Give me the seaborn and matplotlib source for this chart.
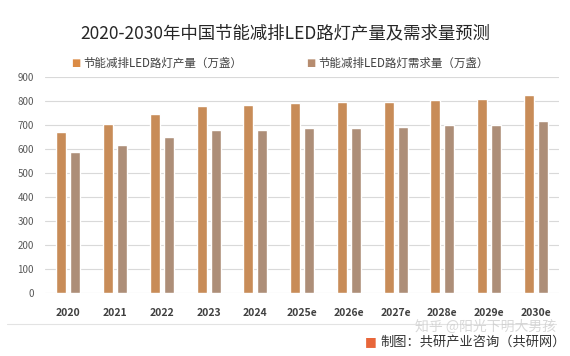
import pandas as pd
import matplotlib.pyplot as plt
import seaborn as sns

# data
years = ['2020', '2021', '2022', '2023', '2024', '2025e', '2026e',
         '2027e', '2028e', '2029e', '2030e']
production = [669, 704, 747, 778, 783, 792, 794, 795, 803, 808, 824]
demand = [586, 618, 650, 677, 680, 689, 689, 692, 698, 700, 717]
series_names = ['节能减排LED路灯产量（万盏）', '节能减排LED路灯需求量（万盏）']
colors = ['#DB8B45', '#B68C6F']

df = pd.DataFrame({'year': years * 2,
                   'value': production + demand,
                   'series': [series_names[0]] * len(years) + [series_names[1]] * len(years)})

sns.set_style('white')
plt.rcParams['font.family'] = ['Noto Sans CJK SC', 'DejaVu Sans']

fig = plt.figure(figsize=(5.7, 3.56), dpi=100)
ax = fig.add_axes([0.079, 0.177, 0.902, 0.607])

sns.barplot(data=df, x='year', y='value', hue='series', palette=colors,
            width=0.6, gap=0.29, ax=ax, legend=False)

ax.set_ylim(0, 900)
ax.set_yticks(range(0, 901, 100))
ax.yaxis.grid(True, color='#D9D9D9', linewidth=0.8)
ax.set_axisbelow(True)
for s in ax.spines.values():
    s.set_visible(False)
ax.set_xlabel('')
ax.set_ylabel('')
ax.tick_params(axis='y', labelsize=7, colors='#595959', length=0, pad=8)
ax.tick_params(axis='x', labelsize=7.5, colors='#404040', length=0, pad=11)
for lbl in ax.get_xticklabels():
    lbl.set_fontweight('bold')

# title and legend
fig.text(0.5, 0.905, '2020-2030年中国节能减排LED路灯产量及需求量预测',
         ha='center', va='center', fontsize=12.5, color='#262626')
for xpos, name, c in [(0.133, series_names[0], colors[0]),
                      (0.545, series_names[1], colors[1])]:
    fig.text(xpos, 0.822, '■', ha='center', va='center', fontsize=7, color=c,
             family=['DejaVu Sans'])
    fig.text(xpos + 0.013, 0.822, name, ha='left', va='center', fontsize=8.3,
             color='#404040')

# separator, watermark and footer
fig.add_artist(plt.Line2D([0.012, 0.975], [0.09, 0.09], color='#E3E3E3',
                          linewidth=0.8, transform=fig.transFigure))
fig.text(0.975, 0.083, '知乎 @阳光下明大男孩', ha='right', va='center',
         fontsize=10, color='#C8C8C8', alpha=0.7)
fig.text(0.651, 0.04, '■', ha='center', va='center', fontsize=9, color='#E8663A',
         family=['DejaVu Sans'])
fig.text(0.667, 0.04, '制图：共研产业咨询（共研网）', ha='left', va='center',
         fontsize=9.5, color='#333333')

fig.savefig('out.png', dpi=100)
